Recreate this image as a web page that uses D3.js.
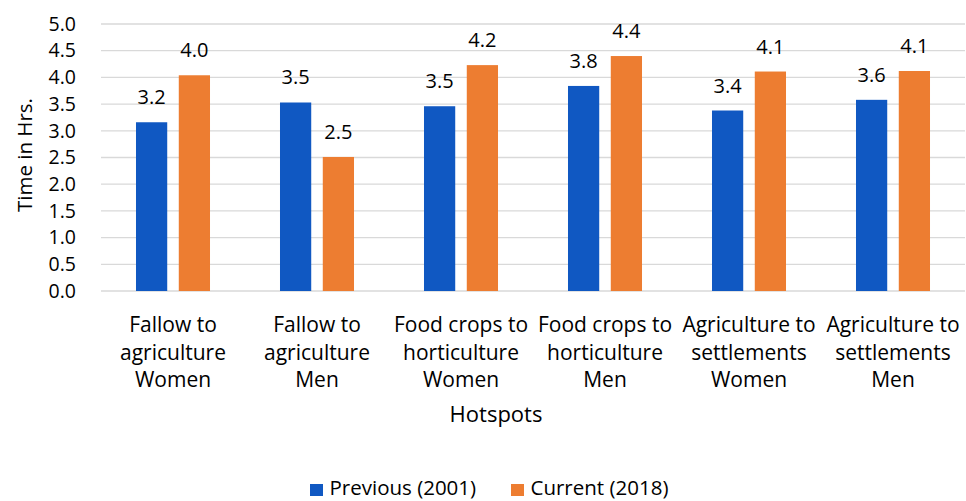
<!DOCTYPE html>
<html>
<head>
<meta charset="utf-8">
<script src="https://cdn.jsdelivr.net/npm/d3@7"></script>
<style>
  body { margin: 0; background: #fff; }
  svg { font-family: "Open Sans", sans-serif; }
</style>
</head>
<body>
<svg width="966" height="501"></svg>
<script>
// categories (lines of each label)
const categories = [
    ["Fallow to", "agriculture", "Women"],
    ["Fallow to", "agriculture", "Men"],
    ["Food crops to", "horticulture", "Women"],
    ["Food crops to", "horticulture", "Men"],
    ["Agriculture to", "settlements", "Women"],
    ["Agriculture to", "settlements", "Men"]
];
const seriesNames = ["Previous (2001)", "Current (2018)"];
const previous = [3.16, 3.53, 3.46, 3.84, 3.38, 3.58];
const current = [4.04, 2.51, 4.23, 4.40, 4.11, 4.12];
const yTicks = [0, 0.5, 1, 1.5, 2, 2.5, 3, 3.5, 4, 4.5, 5];
const colors = ["#1058C2", "#ED7D31"];

const svg = d3.select("svg");
const area = {left: 101, right: 965, top: 24, bottom: 291};

const scX = d3.scaleBand()
    .domain(d3.range(categories.length))
    .range([area.left, area.right])
    .paddingInner(0.486)
    .paddingOuter(0.243);

const scSeries = d3.scaleBand()
    .domain(d3.range(seriesNames.length))
    .range([0, scX.bandwidth()])
    .paddingInner(0.27);

const scY = d3.scaleLinear()
    .domain([0, 5])
    .range([area.bottom, area.top]);

// сетка
svg.append("g")
    .selectAll("line")
    .data(yTicks)
    .enter()
    .append("line")
    .attr("x1", area.left)
    .attr("x2", area.right)
    .attr("y1", d => scY(d))
    .attr("y2", d => scY(d))
    .attr("stroke", "#D9D9D9")
    .attr("stroke-width", 1.3);

// ось Y
const axisY = d3.axisLeft(scY)
    .tickValues(yTicks)
    .tickFormat(d3.format(".1f"))
    .tickSize(0)
    .tickPadding(25);

const gY = svg.append("g")
    .attr("transform", `translate(${area.left}, 0)`)
    .call(axisY);
gY.select(".domain").remove();
gY.selectAll("text")
    .style("font-size", "19.5px")
    .style("font-family", "'Open Sans', sans-serif")
    .attr("fill", "#000");

// столбцы
const data = [previous, current];
data.forEach((vals, s) => {
    const g = svg.append("g");
    g.selectAll("rect")
        .data(vals)
        .enter()
        .append("rect")
        .attr("x", (d, i) => scX(i) + scSeries(s))
        .attr("width", scSeries.bandwidth())
        .attr("y", d => scY(d))
        .attr("height", d => scY(0) - scY(d))
        .attr("fill", colors[s]);

    g.selectAll("text")
        .data(vals)
        .enter()
        .append("text")
        .attr("x", (d, i) => scX(i) + scSeries(s) + scSeries.bandwidth() / 2)
        .attr("y", d => scY(d) - 18)
        .attr("text-anchor", "middle")
        .style("font-size", "20px")
        .text(d => d.toFixed(1));
});

// подписи категорий
const gX = svg.append("g");
categories.forEach((lines, i) => {
    const t = gX.append("text")
        .attr("x", scX(i) + scX.bandwidth() / 2)
        .attr("y", 332)
        .attr("text-anchor", "middle")
        .style("font-size", "21px");
    lines.forEach((ln, k) => {
        t.append("tspan")
            .attr("x", scX(i) + scX.bandwidth() / 2)
            .attr("dy", k === 0 ? 0 : 27.5)
            .text(ln);
    });
});

// заголовки осей
svg.append("text")
    .attr("x", 496)
    .attr("y", 422)
    .attr("text-anchor", "middle")
    .style("font-size", "22px")
    .text("Hotspots");

svg.append("text")
    .attr("transform", `translate(32, 155) rotate(-90)`)
    .attr("text-anchor", "middle")
    .style("font-size", "20.5px")
    .text("Time in Hrs.");

// легенда
const legendX = [310, 511];
seriesNames.forEach((name, s) => {
    svg.append("rect")
        .attr("x", legendX[s])
        .attr("y", 484)
        .attr("width", 13)
        .attr("height", 12)
        .attr("fill", colors[s]);
    svg.append("text")
        .attr("x", legendX[s] + 19.5)
        .attr("y", 495)
        .style("font-size", "20.5px")
        .text(name);
});
</script>
</body>
</html>
